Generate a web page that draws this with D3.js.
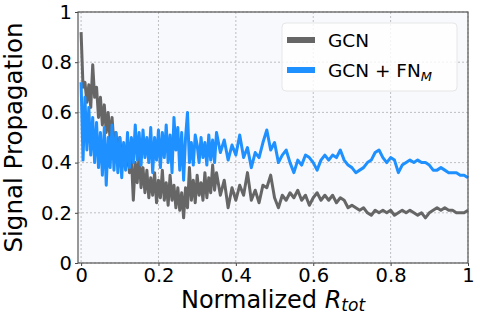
<!DOCTYPE html>
<html>
<head>
<meta charset="utf-8">
<script src="https://d3js.org/d3.v7.min.js"></script>
<style>
  body { margin: 0; background: #fff; }
  text { font-family: "DejaVu Sans", sans-serif; fill: #000; }
</style>
</head>
<body>
<div id="chart"></div>
<script>
var W = 478, H = 316;
var margin = { top: 12, right: 10, bottom: 53, left: 78 };

// x positions (normalized R_tot), dense on the left, coarser on the right
var xVals = [
  0.000, 0.005, 0.010, 0.015, 0.020, 0.025, 0.030, 0.035, 0.040, 0.045,
  0.050, 0.055, 0.060, 0.065, 0.070, 0.075, 0.080, 0.085, 0.090, 0.095,
  0.100, 0.105, 0.110, 0.115, 0.120, 0.125, 0.130, 0.135, 0.140, 0.145,
  0.150, 0.155, 0.160, 0.165, 0.170, 0.175, 0.180, 0.185, 0.190, 0.195,
  0.200, 0.205, 0.210, 0.215, 0.220, 0.225, 0.230, 0.235, 0.240, 0.245,
  0.250, 0.255, 0.260, 0.265, 0.270, 0.275, 0.280, 0.285, 0.290, 0.295,
  0.300, 0.305, 0.310, 0.315, 0.320, 0.325, 0.330, 0.335, 0.340, 0.345,
  0.350,
  0.36, 0.37, 0.38, 0.39, 0.40, 0.41, 0.42, 0.43, 0.44, 0.45,
  0.46, 0.47, 0.48, 0.49, 0.50, 0.51, 0.52, 0.53, 0.54, 0.55,
  0.56, 0.57, 0.58, 0.59, 0.60, 0.61, 0.62, 0.63, 0.64, 0.65,
  0.66, 0.67, 0.68, 0.69, 0.70, 0.71, 0.72, 0.73, 0.74, 0.75,
  0.76, 0.77, 0.78, 0.79, 0.80, 0.81, 0.82, 0.83, 0.84, 0.85,
  0.86, 0.87, 0.88, 0.89, 0.90, 0.91, 0.92, 0.93, 0.94, 0.95,
  0.96, 0.97, 0.98, 0.99, 1.00
];

var gcnVals = [
  0.92, 0.70, 0.72, 0.64, 0.71, 0.62, 0.79, 0.66, 0.70, 0.58,
  0.66, 0.55, 0.63, 0.52, 0.60, 0.49, 0.58, 0.47, 0.52, 0.44,
  0.50, 0.41, 0.47, 0.38, 0.45, 0.36, 0.42, 0.25, 0.40, 0.32,
  0.43, 0.30, 0.38, 0.28, 0.37, 0.26, 0.34, 0.27, 0.36, 0.24,
  0.33, 0.26, 0.37, 0.25, 0.32, 0.23, 0.35, 0.25, 0.31, 0.22,
  0.30, 0.21, 0.28, 0.18, 0.30, 0.22, 0.38, 0.25, 0.33, 0.24,
  0.35, 0.27, 0.32, 0.25, 0.36, 0.26, 0.34, 0.28, 0.39, 0.29,
  0.36,
  0.27, 0.33, 0.22, 0.30, 0.25, 0.31, 0.27, 0.36, 0.25, 0.29,
  0.24, 0.31, 0.30, 0.35, 0.26, 0.22, 0.27, 0.25, 0.28, 0.26,
  0.29, 0.25, 0.27, 0.23, 0.26, 0.28, 0.25, 0.27, 0.25, 0.27,
  0.24, 0.26, 0.25, 0.22, 0.23, 0.22, 0.21, 0.22, 0.20, 0.19,
  0.21, 0.20, 0.21, 0.20, 0.21, 0.19, 0.20, 0.21, 0.20, 0.21,
  0.20, 0.19, 0.20, 0.18, 0.20, 0.21, 0.22, 0.21, 0.22, 0.21,
  0.21, 0.20, 0.20, 0.20, 0.21
];

var fnVals = [
  0.72, 0.41, 0.66, 0.45, 0.62, 0.43, 0.58, 0.40, 0.56, 0.38,
  0.52, 0.35, 0.54, 0.31, 0.50, 0.38, 0.55, 0.37, 0.52, 0.36,
  0.50, 0.34, 0.48, 0.37, 0.52, 0.38, 0.50, 0.40, 0.55, 0.41,
  0.52, 0.39, 0.53, 0.42, 0.50, 0.40, 0.54, 0.36, 0.50, 0.41,
  0.53, 0.38, 0.52, 0.42, 0.55, 0.40, 0.51, 0.36, 0.58, 0.45,
  0.54, 0.37, 0.52, 0.33, 0.50, 0.60, 0.40, 0.48, 0.39, 0.51,
  0.47, 0.40, 0.50, 0.42, 0.48, 0.39, 0.51, 0.41, 0.49, 0.40,
  0.52,
  0.44, 0.49, 0.41, 0.47, 0.43, 0.51, 0.42, 0.46, 0.38, 0.44,
  0.42, 0.48, 0.53, 0.45, 0.48, 0.40, 0.43, 0.45, 0.40, 0.36,
  0.41, 0.39, 0.43, 0.42, 0.40, 0.37, 0.41, 0.43, 0.41, 0.43,
  0.42, 0.45, 0.41, 0.39, 0.38, 0.36, 0.37, 0.38, 0.40, 0.41,
  0.44, 0.45, 0.42, 0.40, 0.42, 0.41, 0.36, 0.39, 0.40, 0.41,
  0.40, 0.41, 0.40, 0.40, 0.39, 0.37, 0.37, 0.38, 0.37, 0.36,
  0.36, 0.36, 0.35, 0.35, 0.34
];

var tickVals = [0, 0.2, 0.4, 0.6, 0.8, 1];
var tickLabels = ["0", "0.2", "0.4", "0.6", "0.8", "1"];

var seriesNames = ["GCN", "GCN + FN"];
var seriesColors = ["#666666", "#1e90ff"];

var width = W - margin.left - margin.right;
var height = H - margin.top - margin.bottom;

var svg = d3.select("#chart")
            .append("svg")
            .attr("width", W)
            .attr("height", H);

var g = svg.append("g")
           .attr("transform", "translate(" + margin.left + "," + margin.top + ")");

var x = d3.scaleLinear().domain([-0.008, 1]).range([0, width]);
var y = d3.scaleLinear().domain([0, 1]).range([height, 0]);

// plot background
g.append("rect")
 .attr("width", width)
 .attr("height", height)
 .attr("fill", "#f8f9fd");

// grid
g.append("g")
 .selectAll("line")
 .data(tickVals)
 .enter().append("line")
 .attr("x1", function(d) { return x(d); })
 .attr("x2", function(d) { return x(d); })
 .attr("y1", 0).attr("y2", height)
 .attr("stroke", "#b0b0b0")
 .attr("stroke-width", 0.8)
 .attr("stroke-dasharray", "2,2");

g.append("g")
 .selectAll("line")
 .data(tickVals)
 .enter().append("line")
 .attr("x1", 0).attr("x2", width)
 .attr("y1", function(d) { return y(d); })
 .attr("y2", function(d) { return y(d); })
 .attr("stroke", "#b0b0b0")
 .attr("stroke-width", 0.8)
 .attr("stroke-dasharray", "2,2");

// lines
var seriesData = [gcnVals, fnVals];
var line = d3.line()
             .x(function(d, i) { return x(xVals[i]); })
             .y(function(d) { return y(d); });

seriesData.forEach(function(vals, k) {
    g.append("path")
     .datum(vals)
     .attr("fill", "none")
     .attr("stroke", seriesColors[k])
     .attr("stroke-width", 3)
     .attr("stroke-linejoin", "round")
     .attr("d", line);
});

// axes
var xAxis = d3.axisBottom(x).tickValues(tickVals)
              .tickFormat(function(d, i) { return tickLabels[i]; })
              .tickSize(3).tickPadding(2);
var yAxis = d3.axisLeft(y).tickValues(tickVals)
              .tickFormat(function(d, i) { return tickLabels[i]; })
              .tickSize(3).tickPadding(3);

var gx = g.append("g").attr("transform", "translate(0," + height + ")").call(xAxis);
var gy = g.append("g").call(yAxis);
[gx, gy].forEach(function(a) {
    a.select(".domain").remove();
    a.selectAll("line").attr("stroke", "#444");
    a.selectAll("text").style("font-family", "DejaVu Sans").style("font-size", "19.5px").attr("fill", "#000");
});

// frame
g.append("rect")
 .attr("width", width)
 .attr("height", height)
 .attr("fill", "none")
 .attr("stroke", "#555")
 .attr("stroke-width", 1.2);

// axis titles
svg.append("text")
   .attr("transform", "translate(22," + (margin.top + height / 2) + ") rotate(-90)")
   .attr("text-anchor", "middle")
   .style("font-size", "24.5px")
   .text("Signal Propagation");

var xt = svg.append("text")
   .attr("x", margin.left + width / 2)
   .attr("y", 308)
   .attr("text-anchor", "middle")
   .style("font-size", "24px");
xt.append("tspan").text("Normalized ");
xt.append("tspan").style("font-style", "italic").text("R");
xt.append("tspan").style("font-style", "italic").style("font-size", "17px").attr("dy", 3).text("tot");

// legend
var lg = svg.append("g").attr("transform", "translate(282,23)");
lg.append("rect")
  .attr("width", 175).attr("height", 68)
  .attr("rx", 4)
  .attr("fill", "#ffffff").attr("fill-opacity", 0.8)
  .attr("stroke", "#e6e6e6");

seriesNames.forEach(function(name, k) {
    var yy = 17 + k * 30;
    lg.append("line")
      .attr("x1", 5).attr("x2", 33)
      .attr("y1", yy).attr("y2", yy)
      .attr("stroke", seriesColors[k])
      .attr("stroke-width", 6);
    var t = lg.append("text")
      .attr("x", 46).attr("y", yy + 7)
      .style("font-size", "18.5px")
      .text(name);
    if (k === 1) {
        t.append("tspan").style("font-style", "italic").style("font-size", "13px").attr("dy", 4).text("M");
    }
});
</script>
</body>
</html>
